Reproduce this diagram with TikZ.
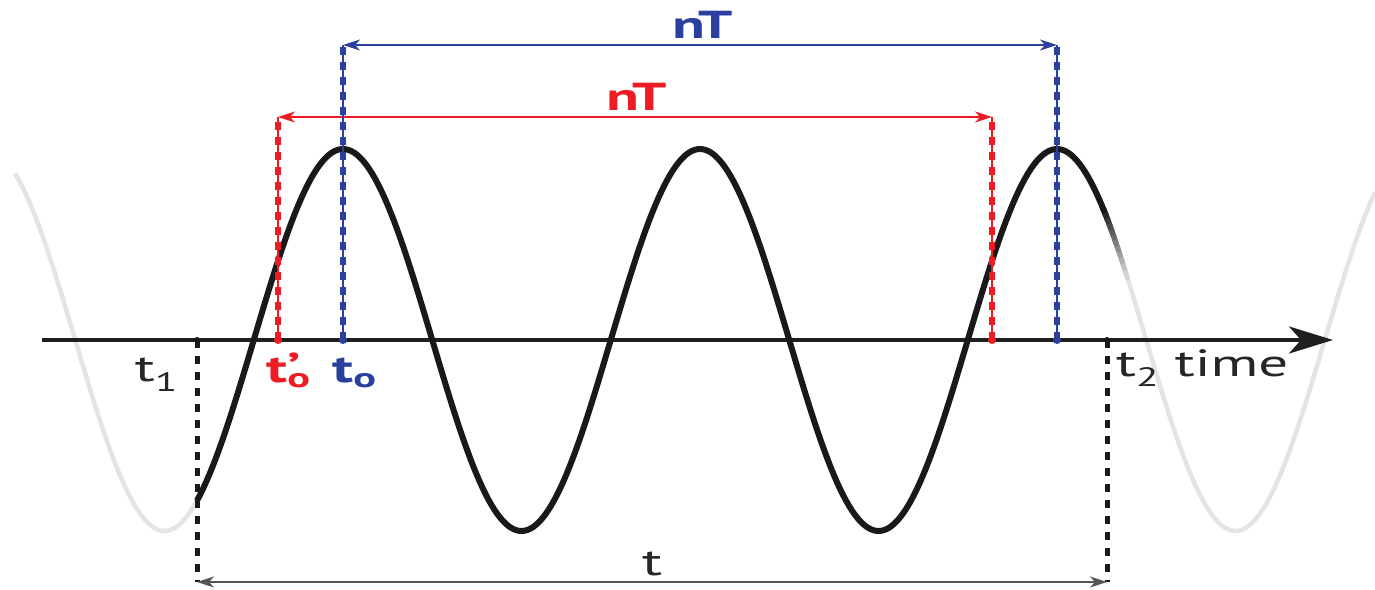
\documentclass[tikz,border=0pt]{standalone}
\usepackage{fontspec}
\setmainfont{PT Sans}[FakeStretch=1.55]
\usetikzlibrary{arrows.meta}
\definecolor{myred}{HTML}{ED1C24}
\definecolor{myblue}{HTML}{2A3F9E}
\definecolor{wavegray}{HTML}{E4E4E4}
\definecolor{dimline}{HTML}{555555}
\begin{document}
\begin{tikzpicture}[x=1pt,y=-1pt,
  graywave/.style={line width=4.5pt, wavegray},
  blackwave/.style={line width=6pt, black!90},
  axisline/.style={line width=4pt, black!88, -{Stealth[length=44pt,width=27pt,inset=12pt]}},
  blackdash/.style={line width=5pt, black!90, dash pattern=on 8pt off 8pt},
  coldash/.style={line width=6pt, dash pattern=on 8pt off 7pt},
  colthin/.style={line width=1.4pt},
  colarrow/.style={line width=1.3pt, {Stealth[length=17pt,width=11pt,inset=5pt]}-{Stealth[length=17pt,width=11pt,inset=5pt]}},
  dimarrow/.style={line width=1.6pt, dimline, {Stealth[length=17pt,width=11pt,inset=5pt]}-{Stealth[length=17pt,width=11pt,inset=5pt]}},
  dot/.style={circle, fill, inner sep=0pt, minimum size=8pt},
  lab/.style={inner sep=0pt, font=\fontsize{38}{40}\selectfont},
  blab/.style={inner sep=0pt, font=\fontsize{39}{40}\selectfont\bfseries}
]
\useasboundingbox (0,0) rectangle (1375,589);

% coordinates
\coordinate (axL) at (42,340);
\coordinate (axR) at (1333,340);
\coordinate (t1a) at (197,340);
\coordinate (t1b) at (197,582);
\coordinate (t2a) at (1107,340);
\coordinate (t2b) at (1107,582);
\coordinate (ra) at (278,340);
\coordinate (rb) at (278,117);
\coordinate (rc) at (992,117);
\coordinate (rd) at (992,340);
\coordinate (ba) at (343,340);
\coordinate (bb) at (343,45);
\coordinate (bc) at (1057,45);
\coordinate (bd) at (1057,340);

% gray background wave
\draw[graywave] plot[domain=15:1375, samples=300] (\x, {340-191*cos(1.008403*(\x-343))});
% axis
\draw[axisline] (axL) -- (axR);
% black wave
\draw[blackwave] plot[domain=197:1104, samples=300] (\x, {340-191*cos(1.008403*(\x-343))});
\foreach \i in {0,...,11} {
  \pgfmathsetmacro\xa{1103+2*\i}
  \pgfmathsetmacro\xb{1106+2*\i}
  \pgfmathsetmacro\pc{90-7.5*\i}
  \pgfmathsetmacro\lw{6-0.12*\i}
  \draw[line width=\lw pt, color=black!\pc!wavegray] plot[domain=\xa:\xb, samples=5] (\x, {340-191*cos(1.008403*(\x-343))});
}

% black dashed verticals
\draw[blackdash] (t1a) -- (t1b);
\draw[blackdash] (t2a) -- (t2b);
\node[dot, fill=black!90, minimum size=6pt] (d1) at (t1a) {};
\node[dot, fill=black!90, minimum size=6pt] (d2) at (t2a) {};
\draw[dimarrow] (t1b) -- (t2b);

% red construction
\draw[coldash, myred] (ra) -- (rb);
\draw[coldash, myred] (rd) -- (rc);
\draw[colthin, myred] (ra) -- (rb);
\draw[colthin, myred] (rd) -- (rc);
\draw[colarrow, myred] (rb) -- (rc);
\node[dot, fill=myred] (dr1) at (ra) {};
\node[dot, fill=myred] (dr2) at (rd) {};

% blue construction
\draw[coldash, myblue] (ba) -- (bb);
\draw[coldash, myblue] (bd) -- (bc);
\draw[colthin, myblue] (ba) -- (bb);
\draw[colthin, myblue] (bd) -- (bc);
\draw[colarrow, myblue] (bb) -- (bc);
\node[dot, fill=myblue] (db1) at (ba) {};
\node[dot, fill=myblue] (db2) at (bd) {};

% labels
\node[blab, text=myblue, anchor=base] (nTb) at (703,38) {nT};
\node[blab, text=myred, anchor=base] (nTr) at (637,110) {nT};
\node[lab, text=black!85, anchor=base] (tl) at (652,575) {t};
\node[lab, text=black!85, anchor=base east] (t1) at (178,381) {t\textsubscript{1}};
\node[blab, text=myred, anchor=base west] (t0p) at (266,382) {t\makebox[0pt][l]{\raisebox{0.05em}{’}}\textsubscript{o}};
\node[blab, text=myblue, anchor=base west] (t0) at (332,382) {t\textsubscript{o}};
\node[lab, text=black!85, anchor=base west] (t2) at (1116,376) {t\textsubscript{2} time};
\end{tikzpicture}
\end{document}
